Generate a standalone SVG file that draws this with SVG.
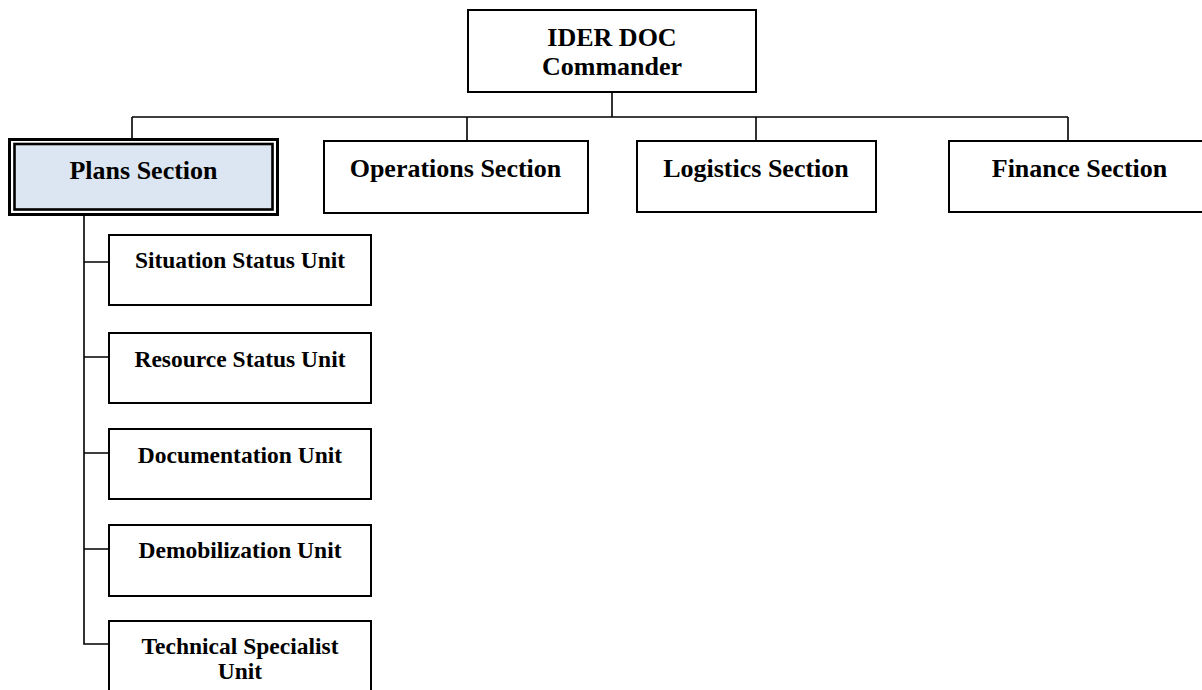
<svg xmlns="http://www.w3.org/2000/svg" width="1202" height="690" viewBox="0 0 1202 690">
<style>
.box{fill:#ffffff;stroke:#000000;stroke-width:2}
.conn{fill:none;stroke:#000000;stroke-width:1.6}
.t{font-family:"Liberation Serif","Times New Roman",serif;font-weight:bold;fill:#000000;text-anchor:middle}
.sec{font-size:26px}
.unit{font-size:23.5px}
</style>
<rect width="1202" height="690" fill="#ffffff"/>
<g id="connectors">
<path class="conn" d="M612,92 V117 M132,117 H1068 M132,117 V138 M467,117 V140 M756,117 V140 M1068,117 V141"/>
<path class="conn" d="M84,216 V644 H108 M84,262 H108 M84,357 H108 M84,453 H108 M84,549 H108"/>
</g>
<g id="commander">
<rect class="box" x="468" y="10" width="288" height="82"/>
<text class="t sec" x="612" y="46">IDER DOC</text>
<text class="t sec" x="612" y="75">Commander</text>
</g>
<g id="plans">
<rect x="9.5" y="139.5" width="268" height="75" fill="#ffffff" stroke="#000000" stroke-width="3"/>
<rect x="14.5" y="144" width="258" height="65.5" fill="#dce6f2" stroke="#000000" stroke-width="2.6"/>
<text class="t sec" x="143.5" y="179">Plans Section</text>
</g>
<g id="operations">
<rect class="box" x="324" y="141" width="264" height="72"/>
<text class="t sec" x="455.5" y="177">Operations Section</text>
</g>
<g id="logistics">
<rect class="box" x="637" y="141" width="239" height="71"/>
<text class="t sec" x="756" y="177">Logistics Section</text>
</g>
<g id="finance">
<rect class="box" x="949" y="141" width="262" height="71"/>
<text class="t sec" x="1079.5" y="177">Finance Section</text>
</g>
<g id="situation">
<rect class="box" x="109" y="235" width="262" height="70"/>
<text class="t unit" x="240" y="268">Situation Status Unit</text>
</g>
<g id="resource">
<rect class="box" x="109" y="333" width="262" height="70"/>
<text class="t unit" x="240" y="367">Resource Status Unit</text>
</g>
<g id="documentation">
<rect class="box" x="109" y="429" width="262" height="70"/>
<text class="t unit" x="240" y="463">Documentation Unit</text>
</g>
<g id="demobilization">
<rect class="box" x="109" y="525" width="262" height="71"/>
<text class="t unit" x="240" y="558">Demobilization Unit</text>
</g>
<g id="technical">
<rect class="box" x="109" y="621" width="262" height="80"/>
<text class="t unit" x="240" y="654">Technical Specialist</text>
<text class="t unit" x="240" y="679">Unit</text>
</g>
</svg>
